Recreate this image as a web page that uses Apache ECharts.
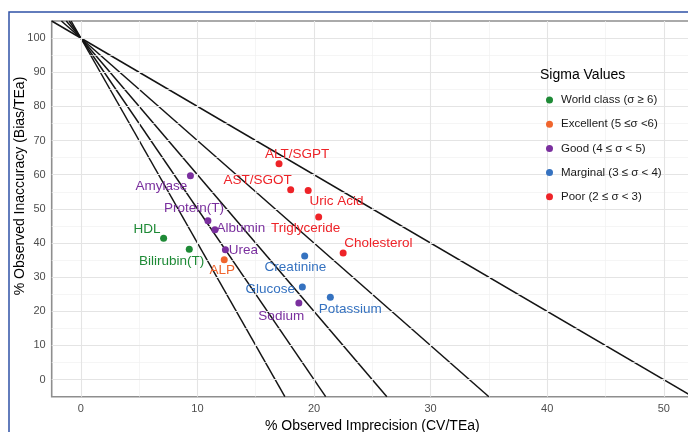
<!DOCTYPE html>
<html><head><meta charset="utf-8">
<script src="https://cdn.jsdelivr.net/npm/echarts@6/dist/echarts.min.js"></script>
<style>html,body{margin:0;padding:0;background:#fff}#c{width:688px;height:432px}</style>
</head><body><div id="c"></div><script>
// ---- data ----
const analytes = ['ALT/SGPT','AST/SGOT','Uric Acid','Triglyceride','Cholesterol','Creatinine','Glucose','Potassium','Sodium','Amylase','Protein(T)','Albumin','Urea','HDL','Bilirubin(T)','ALP'];
const cvValues   = [17.0, 18.0, 19.5, 20.4, 22.5, 19.2, 19.0, 21.4, 18.7, 9.4, 10.9, 11.5, 12.4, 7.1, 9.3, 12.3];
const biasValues = [63.2, 55.6, 55.4, 47.6, 37.1, 36.2, 27.1, 24.1, 22.4, 59.7, 46.5, 43.9, 38.0, 41.4, 38.2, 35.1];
const sigmaClass = [4,4,4,4,4,3,3,3,2,2,2,2,2,0,0,1];
const classNames = ['World class (σ ≥ 6)','Excellent (5 ≤σ <6)','Good (4 ≤ σ < 5)','Marginal (3 ≤ σ < 4)','Poor (2 ≤ σ < 3)'];
const sigmaLines = [6,5,4,3,2];
const xTicks = [0,10,20,30,40,50];
const yTicks = [0,10,20,30,40,50,60,70,80,90,100];
const xRange = [-2.5, 52.5];
const yRange = [-5, 105];
const xTitle = '% Observed Imprecision (CV/TEa)';
const yTitle = '% Observed Inaccuracy (Bias/TEa)';
const legendTitle = 'Sigma Values';

// ---- styles ----
const classColors = ['#1e8a36','#f0652d','#7a2f9e','#3572c0','#ee2328'];
const labelOffsets = {
  'ALT/SGPT':[18,-9],'AST/SGOT':[-33,-9.3],'Uric Acid':[28.4,11],'Triglyceride':[-13,11.7],
  'Cholesterol':[35.3,-10],'Creatinine':[-9.3,11.4],'Glucose':[-32,2.7],'Potassium':[20,11.6],
  'Sodium':[-17.6,12.7],'Amylase':[-29,10.7],'Protein(T)':[-14,-12.7],'Albumin':[26,-1],
  'Urea':[18,0],'HDL':[-16.6,-9.4],'Bilirubin(T)':[-17.7,12.4],'ALP':[-2,10.7]
};
const FONT = '"Liberation Sans", Arial, sans-serif';
const labelSize = 13.5, legendSize = 11.5, legTitleSize = 14, axisTitleSize = 14, tickSize = 11;

const chart = echarts.init(document.getElementById('c'), null, {renderer:'canvas'});

const series = [];
// grid lines
const majX = xTicks, minX = xTicks.slice(0,-1).map(v=>v+5);
const majY = yTicks, minY = yTicks.slice(0,-1).map(v=>v+5);
series.push({
  type:'line', data:[], silent:true, z:1,
  markLine:{silent:true, symbol:'none', animation:false, label:{show:false},
    data:[
      ...minX.map(v=>({xAxis:v, lineStyle:{color:'#f0f0f0', width:0.7, type:'solid'}})),
      ...minY.map(v=>({yAxis:v, lineStyle:{color:'#f0f0f0', width:0.7, type:'solid'}})),
      ...majX.map(v=>({xAxis:v, lineStyle:{color:'#e4e4e4', width:1.1, type:'solid'}})),
      ...majY.map(v=>({yAxis:v, lineStyle:{color:'#e4e4e4', width:1.1, type:'solid'}}))
    ]}
});
// sigma lines: bias = 100 - sigma * CV, drawn across the whole panel
sigmaLines.forEach(s=>{
  series.push({
    type:'line', silent:true, z:3, showSymbol:false, symbol:'none',
    lineStyle:{color:'#141414', width:1.5},
    data:[[(100-yRange[1])/s, yRange[1]], [(100-yRange[0])/s, yRange[0]]]
  });
});
// points
classNames.forEach((cn,ci)=>{
  const data = [];
  analytes.forEach((a,i)=>{
    if (sigmaClass[i]!==ci) return;
    data.push({name:a, value:[cvValues[i], biasValues[i]], label:{offset:labelOffsets[a]}});
  });
  series.push({
    name:cn, type:'scatter', z:5, symbol:'circle', symbolSize:7,
    itemStyle:{color:classColors[ci], opacity:1},
    label:{show:true, position:'inside', formatter:'{b}', color:classColors[ci],
      fontFamily:FONT, fontSize:labelSize, align:'center', verticalAlign:'middle'},
    data
  });
});

chart.setOption({
  animation:false,
  backgroundColor:'#fff',
  grid:{left:51.7, right:-4.9, top:21, bottom:35.3, show:true, borderColor:'#8e8e8e', borderWidth:1.6,
        containLabel:false, outerBoundsMode:'none'},
  xAxis:{type:'value', min:xRange[0], max:xRange[1],
    name:xTitle, nameLocation:'middle', nameGap:20,
    nameTextStyle:{color:'#000', fontSize:axisTitleSize, fontFamily:FONT},
    axisLine:{show:false}, splitLine:{show:false},
    axisTick:{show:true, customValues:xTicks, length:4, lineStyle:{color:'#555'}},
    axisLabel:{customValues:xTicks, color:'#4d4d4d', fontSize:tickSize, fontFamily:FONT, margin:7}
  },
  yAxis:{type:'value', min:yRange[0], max:yRange[1],
    axisLine:{show:false}, splitLine:{show:false},
    axisTick:{show:true, customValues:yTicks, length:4, lineStyle:{color:'#555'}},
    axisLabel:{customValues:yTicks, color:'#4d4d4d', fontSize:tickSize, fontFamily:FONT, margin:6}
  },
  legend:{
    data:classNames, orient:'vertical', left:541, top:89, itemGap:12.2, padding:5,
    itemWidth:7, itemHeight:8, icon:'circle', z:6,
    textStyle:{fontFamily:FONT, fontSize:legendSize, lineHeight:12, color:'#1a1a1a', padding:[0,0,0,3]}
  },
  graphic:[
    {type:'rect', shape:{x:532, y:58, width:132, height:154}, style:{fill:'#fff'}, z:4, silent:true},
    {type:'text', x:540, y:75.5, style:{text:legendTitle, font:legTitleSize+'px '+FONT, fill:'#000', verticalAlign:'middle', textVerticalAlign:'middle'}, z:6},
    {type:'text', x:20, y:186, rotation:Math.PI/2, style:{text:yTitle, font:axisTitleSize+'px '+FONT, fill:'#000', align:'center', verticalAlign:'middle', textAlign:'center', textVerticalAlign:'middle'}, z:6},
    {type:'rect', shape:{x:9, y:12, width:700, height:440}, style:{fill:'none', stroke:'#2f52a6', lineWidth:1.5}, z:10, silent:true}
  ],
  series
});
</script></body></html>
